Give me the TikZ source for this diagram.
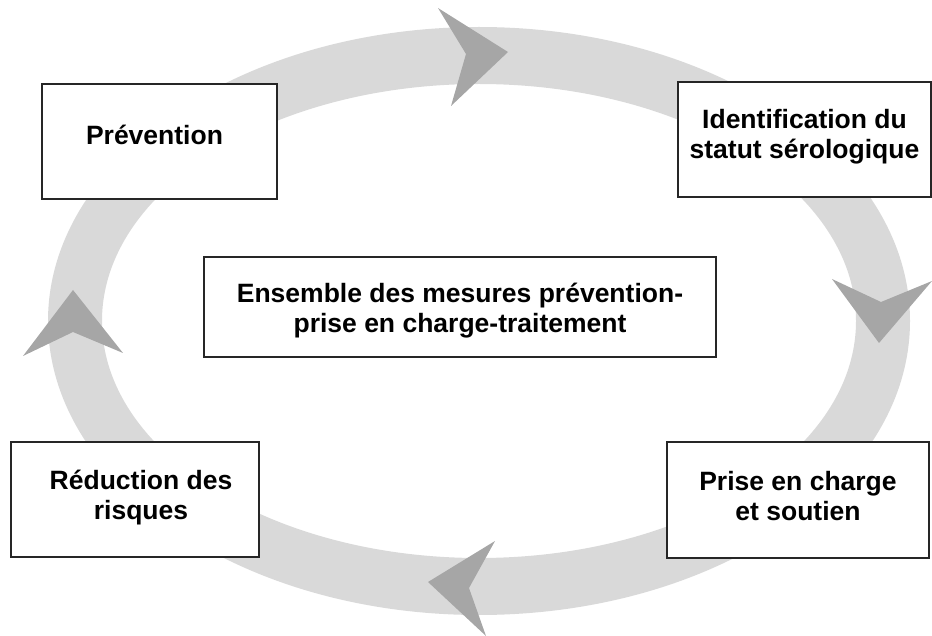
\documentclass[tikz,border=0pt]{standalone}
\usepackage{fontspec}
\setmainfont{Liberation Sans}
\definecolor{ringgray}{HTML}{D9D9D9}
\definecolor{chevgray}{HTML}{A6A6A6}
\tikzset{
  stagebox/.style={draw=black!85, line width=1.2pt, fill=white, inner sep=0pt},
  stagetext/.style={align=center, font=\bfseries\fontsize{26.5}{30}\selectfont, inner sep=0pt},
  chevron/.style={fill=chevgray, draw=none}
}
\begin{document}
\begin{tikzpicture}[x=1pt,y=-1pt]
  \useasboundingbox (0,0) rectangle (932,636);

  % grey ring of the cycle
  \fill[ringgray, even odd rule]
    (479,321) ellipse [x radius=431pt, y radius=294pt]
    (479,321) ellipse [x radius=377pt, y radius=237pt];

  % chevrons giving the direction of the cycle
  \fill[chevron] (438,8) -- (508,52) -- (451,106) -- (466,54) -- cycle;
  \fill[chevron] (832,279) -- (879,343) -- (932,281) -- (881,302) -- cycle;
  \fill[chevron] (495,541) -- (428,582) -- (486,636) -- (469,588) -- cycle;
  \fill[chevron] (73,290) -- (123,353) -- (73,332) -- (23,356) -- cycle;

  % stage boxes
  \node[stagebox, minimum width=235pt, minimum height=115pt] (prev) at (159.5,141.5) {};
  \node[stagetext] (prevt) at ([xshift=-5pt,yshift=7pt]prev.center) {Prévention};

  \node[stagebox, minimum width=253pt, minimum height=115pt] (ident) at (804.5,139.5) {};
  \node[stagetext] (identt) at ([yshift=3pt]ident.center) {Identification du\\statut sérologique};

  \node[stagebox, minimum width=512pt, minimum height=100pt] (ens) at (460,307) {};
  \node[stagetext] (enst) at ([yshift=-4pt]ens.center) {Ensemble des mesures prévention-\\prise en charge-traitement};

  \node[stagebox, minimum width=248pt, minimum height=115pt] (red) at (135,499.5) {};
  \node[stagetext] (redt) at ([xshift=6pt,yshift=2pt]red.center) {Réduction des\\risques};

  \node[stagebox, minimum width=262pt, minimum height=116pt] (prise) at (798,500) {};
  \node[stagetext] (priset) at ([yshift=4pt]prise.center) {Prise en charge\\et soutien};
\end{tikzpicture}
\end{document}
